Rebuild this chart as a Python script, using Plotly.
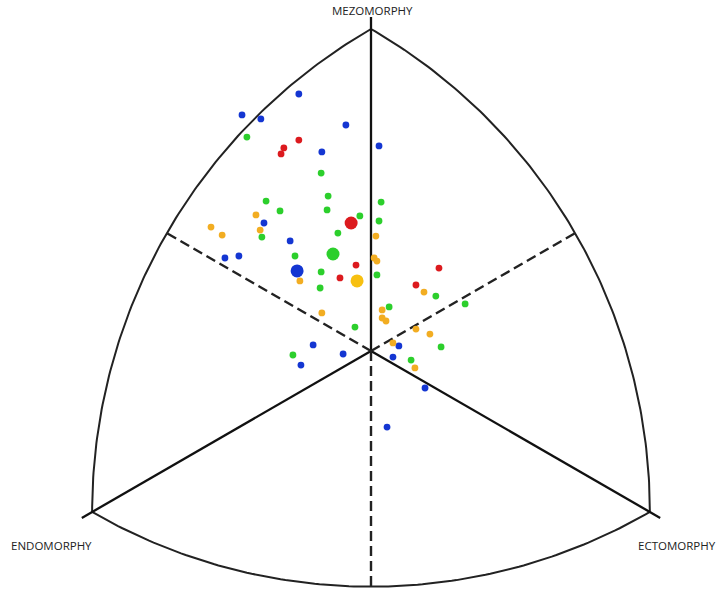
import numpy as np
import plotly.graph_objects as go

# Somatochart coordinates: X = ecto - endo, Y = 2*meso - (endo + ecto)
blue_x = [-2.07, -3.70, -3.16, -0.72, -1.41, 0.23, -3.07, -2.32, -4.19, -3.79,
          -1.66, -2.01, -0.80, 0.80, 0.63, 1.55, 0.46]
blue_y = [12.77, 11.73, 11.53, 11.23, 9.89, 10.19, 6.36, 5.47, 4.62, 4.72,
          0.30, -0.70, -0.15, 0.25, -0.30, -1.84, -3.78]
red_x = [-2.07, -2.50, -2.58, -0.43, -0.89, 1.95, 1.29]
red_y = [10.48, 10.09, 9.79, 4.27, 3.63, 4.12, 3.28]
green_x = [-3.56, -1.43, -1.23, -3.01, -2.61, -1.26, 0.29, -0.32, 0.23, -3.13, -0.95,
           -2.18, -1.43, 0.17, -1.46, 0.52, -0.46, 1.86, 2.70, 2.01, -2.24, 1.15]
green_y = [10.63, 8.84, 7.70, 7.45, 6.96, 7.01, 7.40, 6.71, 6.46, 5.66, 5.86,
           4.72, 3.93, 3.78, 3.13, 2.19, 1.19, 2.73, 2.34, 0.20, -0.20, -0.45]
orange_x = [-3.30, -4.59, -3.18, -4.27, 0.14, 0.09, 0.17, -2.04, -1.41, 0.32, 0.32,
            0.43, 1.52, 1.29, 1.69, 0.63, 1.26]
orange_y = [6.76, 6.16, 6.01, 5.76, 5.71, 4.62, 4.47, 3.48, 1.89, 2.04, 1.64,
            1.49, 2.93, 1.09, 0.84, 0.40, -0.84]

# group means (large markers)
mean_x = [-2.12, -0.57, -1.09, -0.40]
mean_y = [3.98, 6.36, 4.82, 3.48]

colors = {"blue": "#1436d2", "red": "#dc1a1e", "green": "#2ccf2c", "orange": "#f2ad22"}
mean_colors = [colors["blue"], colors["red"], colors["green"], "#f7c011"]

labels = ["MEZOMORPHY", "ENDOMORPHY", "ECTOMORPHY"]

S3 = np.sqrt(3.0)
R = 16.0  # vertex distance in iso units
verts = {"meso": (0.0, 16.0), "endo": (-8 * S3, -8.0), "ecto": (8 * S3, -8.0)}
side = R * S3


def to_chart(u, v):
    return np.asarray(u) / S3, np.asarray(v)


def arc(center, a0, a1, n=120):
    t = np.radians(np.linspace(a0, a1, n))
    u = center[0] + side * np.cos(t)
    v = center[1] + side * np.sin(t)
    return to_chart(u, v)


fig = go.Figure()
line_style = dict(color="#111111", width=2.3)

# Reuleaux outline
for c, a0, a1 in [(verts["ecto"], 120, 180), (verts["endo"], 0, 60), (verts["meso"], 240, 300)]:
    x, y = arc(c, a0, a1)
    fig.add_trace(go.Scatter(x=x, y=y, mode="lines", line=dict(color="#222222", width=2),
                             hoverinfo="skip", showlegend=False))

# solid axes from centre to vertices (slightly extended)
for k in ["meso", "endo", "ecto"]:
    u, v = verts[k]
    x, y = to_chart([0, u * 1.037], [0, v * 1.037])
    fig.add_trace(go.Scatter(x=x, y=y, mode="lines", line=line_style,
                             hoverinfo="skip", showlegend=False))

# dashed lines from centre to arc midpoints
mid = side - R
for ang in [150, 30, 270]:
    t = np.radians(ang)
    x, y = to_chart([0, mid * np.cos(t)], [0, mid * np.sin(t)])
    fig.add_trace(go.Scatter(x=x, y=y, mode="lines",
                             line=dict(color="#222222", width=2.4, dash="10px,5px"),
                             hoverinfo="skip", showlegend=False))

for xs, ys, col in [(blue_x, blue_y, colors["blue"]), (red_x, red_y, colors["red"]),
                    (green_x, green_y, colors["green"]), (orange_x, orange_y, colors["orange"])]:
    fig.add_trace(go.Scatter(x=xs, y=ys, mode="markers",
                             marker=dict(color=col, size=6.8, line=dict(width=0)),
                             showlegend=False))

fig.add_trace(go.Scatter(x=mean_x, y=mean_y, mode="markers",
                         marker=dict(color=mean_colors, size=13, line=dict(width=0)),
                         showlegend=False))

font = dict(family="Open Sans", size=11.5, color="#222222")
fig.add_annotation(x=0.03, y=16.94, text=labels[0], showarrow=False, font=font)
fig.add_annotation(x=-9.18, y=-9.64, text=labels[1], showarrow=False, font=font)
fig.add_annotation(x=8.78, y=-9.64, text=labels[2], showarrow=False, font=font)

fig.update_layout(
    width=726, height=594, margin=dict(l=0, r=0, t=0, b=0),
    paper_bgcolor="white", plot_bgcolor="white",
    xaxis=dict(range=[-10.643, 10.184], visible=False, fixedrange=True),
    yaxis=dict(range=[-12.075, 17.441], visible=False, fixedrange=True),
)
fig.write_html("out.html", config={"displayModeBar": False},
               post_script="document.body.style.margin='0';document.body.style.overflow='hidden';")
